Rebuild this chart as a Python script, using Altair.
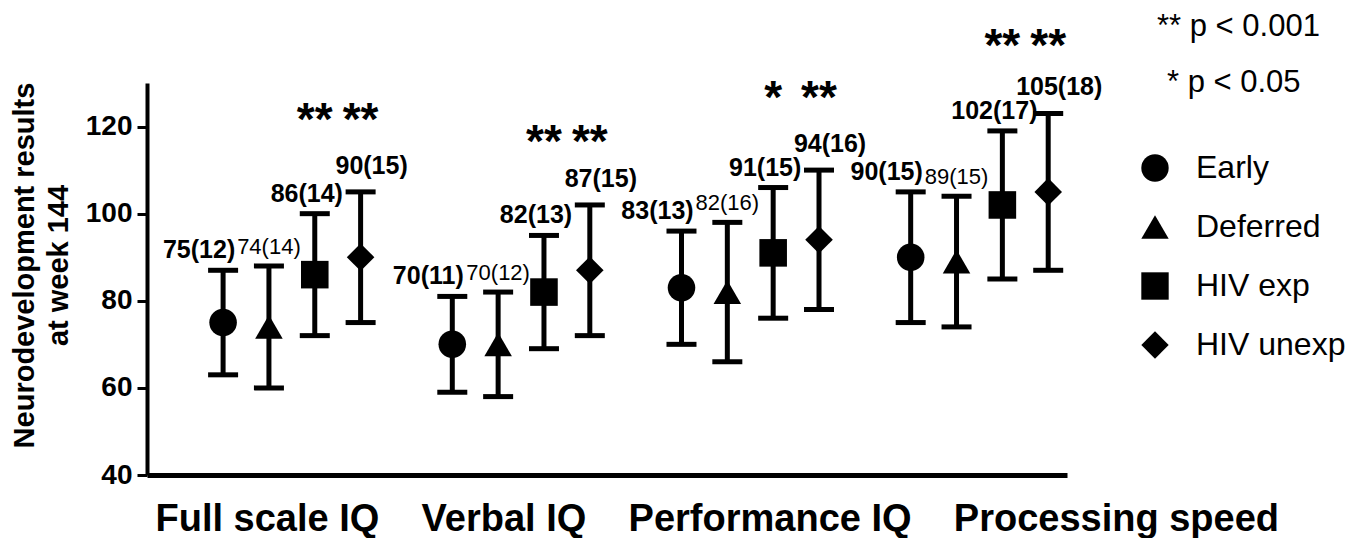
import altair as alt
import pandas as pd

categories = ["Full scale IQ", "Verbal IQ", "Performance IQ", "Processing speed"]
groups = ["Early", "Deferred", "HIV exp", "HIV unexp"]
mean_early = [75, 70, 83, 90]
sd_early = [12, 11, 13, 15]
mean_deferred = [74, 70, 82, 89]
sd_deferred = [14, 12, 16, 15]
mean_hivexp = [86, 82, 91, 102]
sd_hivexp = [14, 13, 15, 17]
mean_hivunexp = [90, 87, 94, 105]
sd_hivunexp = [15, 15, 16, 18]
stars_early = ["", "", "", ""]
stars_deferred = ["", "", "", ""]
stars_hivexp = ["**", "**", "*", "**"]
stars_hivunexp = ["**", "**", "**", "**"]
star_height = [118, 113, 123, 135]
y_ticks = [40, 60, 80, 100, 120]
p_notes = ["** p < 0.001", "* p < 0.05"]

means = [mean_early, mean_deferred, mean_hivexp, mean_hivunexp]
sds = [sd_early, sd_deferred, sd_hivexp, sd_hivunexp]
stars = [stars_early, stars_deferred, stars_hivexp, stars_hivunexp]

rows = []
for ci, cat in enumerate(categories):
    for gi, g in enumerate(groups):
        m = means[gi][ci]
        s = sds[gi][ci]
        rows.append({
            "category": cat, "group": g, "pos": ci * 5 + gi,
            "mean": m, "lo": m - s, "hi": m + s,
            "label": f"{m}({s})", "star": stars[gi][ci],
            "star_y": star_height[ci],
        })
df = pd.DataFrame(rows)

FONT = "Liberation Sans, Arial, Helvetica, sans-serif"
NB = "\u00a0" * 4
x_title = NB.join(categories)

x_axis = alt.Axis(labels=False, ticks=False, grid=False, domainWidth=5,
                  domainColor="black", title=x_title, titleFont=FONT,
                  titleFontSize=38, titleFontWeight="bold", titleColor="black",
                  titleAnchor="start", titleAlign="left", titleX=8, titleY=55,
                  titleBaseline="alphabetic", titleLimit=3000)
y_axis = alt.Axis(values=y_ticks, grid=False, domainWidth=4, domainColor="black",
                  tickWidth=3, tickSize=10, tickColor="black", labelFont=FONT,
                  labelFontSize=28, labelFontWeight="bold", labelColor="black",
                  labelPadding=5, title=["Neurodevelopment results", "at week 144"],
                  titleFont=FONT, titleFontSize=29, titleFontWeight="bold",
                  titleColor="black", titleAngle=270, titleAlign="center",
                  titleBaseline="alphabetic", titleX=-114, titleY=182,
                  titleLineHeight=34)


def X():
    return alt.X("pos:Q", scale=alt.Scale(domain=[-1.66, 18.41], nice=False, zero=False),
                 axis=x_axis)


def Y(field):
    return alt.Y(f"{field}:Q", scale=alt.Scale(domain=[40, 130], nice=False, zero=False),
                 axis=y_axis)


base = alt.Chart(df)

bars = base.mark_rule(color="black", strokeWidth=5).encode(
    x=X(), y=Y("lo"), y2="hi:Q")
cap_hi = base.mark_tick(color="black", orient="horizontal", size=30, thickness=5,
                        opacity=1).encode(x=X(), y=Y("hi"))
cap_lo = base.mark_tick(color="black", orient="horizontal", size=30, thickness=5,
                        opacity=1).encode(x=X(), y=Y("lo"))

points = base.mark_point(filled=True, color="black", opacity=1, size=760).encode(
    x=X(), y=Y("mean"),
    shape=alt.Shape("group:N",
                    scale=alt.Scale(domain=groups,
                                    range=["circle", "triangle-up", "square", "diamond"]),
                    legend=alt.Legend(title=None, orient="none", legendX=992, legendY=69,
                                      labelFont=FONT, labelFontSize=32, labelColor="black",
                                      symbolSize=750, symbolFillColor="black",
                                      symbolStrokeColor="black", symbolStrokeWidth=0,
                                      symbolOpacity=1, rowPadding=27, labelOffset=25)),
)

label_style = {
    "Early": dict(dx=-24, dy=-20, fontSize=25, fontWeight="bold"),
    "Deferred": dict(dx=0, dy=-19, fontSize=22, fontWeight="normal"),
    "HIV exp": dict(dx=-8, dy=-20, fontSize=25, fontWeight="bold"),
    "HIV unexp": dict(dx=11, dy=-26, fontSize=25, fontWeight="bold"),
}
labels = []
for g in groups:
    st = label_style[g]
    labels.append(
        base.transform_filter(alt.datum.group == g).mark_text(
            font=FONT, color="black", baseline="middle", align="center", **st
        ).encode(x=X(), y=Y("hi"), text="label:N")
    )

star_marks = base.transform_filter(alt.datum.star != "").mark_text(
    font=FONT, fontSize=46, fontWeight="bold", color="black",
    baseline="alphabetic", align="center"
).encode(x=X(), y=Y("star_y"), text="star:N")

note1 = alt.Chart(pd.DataFrame({"t": [p_notes[0]]})).mark_text(
    font=FONT, fontSize=31, color="black", align="left", baseline="alphabetic"
).encode(x=alt.value(1010), y=alt.value(-47), text="t:N")
note2 = alt.Chart(pd.DataFrame({"t": [p_notes[1]]})).mark_text(
    font=FONT, fontSize=31, color="black", align="left", baseline="alphabetic"
).encode(x=alt.value(1020), y=alt.value(9), text="t:N")

chart = alt.layer(bars, cap_hi, cap_lo, points, *labels, star_marks, note1, note2).properties(
    width=920, height=392,
    background="white",
    padding={"left": 139, "top": 75, "right": 295, "bottom": 63},
    autosize=alt.AutoSizeParams(type="none"),
).configure_view(stroke=None)

chart.save("out.html", embed_options={"renderer": "svg", "actions": False})
